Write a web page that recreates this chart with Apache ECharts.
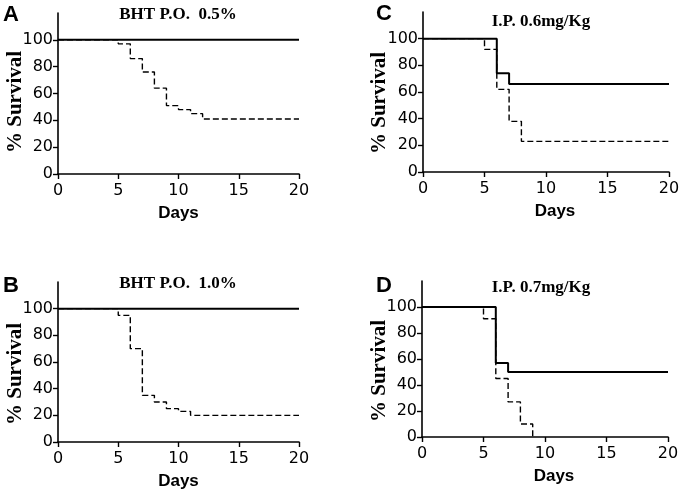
<!DOCTYPE html>
<html>
<head>
<meta charset="utf-8">
<script src="https://cdn.jsdelivr.net/npm/echarts@6/dist/echarts.min.js"></script>
<style>
  html, body { margin: 0; padding: 0; background: #fff; }
  #chart { width: 688px; height: 496px; }
</style>
</head>
<body>
<div id="chart"></div>
<script>
// x ticks / y ticks
var dayTicks = [0, 5, 10, 15, 20];
var survivalTicks = [0, 20, 40, 60, 80, 100];

// A - BHT P.O. 0.5%
var solidDaysA = [0, 20];
var solidA = [100, 100];
var dashDaysA = [0, 5, 6, 7, 8, 9, 10, 11, 12, 20];
var dashA = [100, 97, 86, 76, 64, 51, 48, 45, 41, 41];

// B - BHT P.O. 1.0%
var solidDaysB = [0, 20];
var solidB = [100, 100];
var dashDaysB = [0, 5, 6, 7, 8, 9, 10, 11, 20];
var dashB = [100, 95, 70, 35, 30, 25, 23, 20, 20];

// C - I.P. 0.6mg/Kg
var solidDaysC = [0, 6, 7, 20];
var solidC = [100, 74, 66, 66];
var dashDaysC = [0, 5, 6, 7, 8, 20];
var dashC = [100, 92, 62, 38, 23, 23];

// D - I.P. 0.7mg/Kg
var solidDaysD = [0, 6, 7, 20];
var solidD = [100, 57, 50, 50];
var dashDaysD = [0, 5, 6, 7, 8, 9];
var dashD = [100, 91, 45, 27, 10, 0];

var panels = [
  { letter: 'A', title: 'BHT P.O.  0.5%', grid: { left: 58, top: 13, width: 241, height: 161 },
    solid: [solidDaysA, solidA], dash: [dashDaysA, dashA], titleX: 178, titleY: 15, letterX: 3, letterY: 15, labX: 16, labY: 102, daysPad: 0 },
  { letter: 'C', title: 'I.P. 0.6mg/Kg', grid: { left: 423, top: 12, width: 246, height: 160 },
    solid: [solidDaysC, solidC], dash: [dashDaysC, dashC], titleX: 541, titleY: 22, letterX: 376, letterY: 14, labX: 380, labY: 103, daysPad: 18 },
  { letter: 'B', title: 'BHT P.O.  1.0%', grid: { left: 58, top: 282, width: 241, height: 160 },
    solid: [solidDaysB, solidB], dash: [dashDaysB, dashB], titleX: 178, titleY: 284, letterX: 3, letterY: 286, labX: 16, labY: 374, daysPad: 0 },
  { letter: 'D', title: 'I.P. 0.7mg/Kg', grid: { left: 422, top: 281, width: 246, height: 156 },
    solid: [solidDaysD, solidD], dash: [dashDaysD, dashD], titleX: 541, titleY: 288, letterX: 376, letterY: 286, labX: 380, labY: 371, daysPad: 18 }
];

function zip(xs, ys) {
  return xs.map(function (x, i) { return [x, ys[i]]; });
}

var tickFont = { color: '#000', fontFamily: 'DejaVu Sans', fontSize: 16 };

var grids = [], xAxes = [], yAxes = [], series = [], graphics = [];

panels.forEach(function (p, i) {
  grids.push(p.grid);
  xAxes.push({
    type: 'value', gridIndex: i, min: 0, max: 20, interval: 5,
    splitLine: { show: false },
    axisLine: { lineStyle: { color: '#000', width: 1.6 } },
    axisTick: { length: 5, customValues: dayTicks, lineStyle: { color: '#000', width: 1.4 } },
    axisLabel: Object.assign({ margin: 9, customValues: dayTicks }, tickFont),
    name: 'Days', nameLocation: 'middle', nameGap: 31,
    nameTextStyle: { color: '#000', fontFamily: 'Liberation Sans', fontWeight: 'bold', fontSize: 17, padding: [0, 0, 0, p.daysPad] }
  });
  yAxes.push({
    type: 'value', gridIndex: i, min: 0, max: 120, interval: 20,
    splitLine: { show: false },
    axisLine: { show: true, lineStyle: { color: '#000', width: 1.6 } },
    axisTick: { show: true, length: 5, customValues: survivalTicks, lineStyle: { color: '#000', width: 1.4 } },
    axisLabel: Object.assign({ margin: 5, customValues: survivalTicks }, tickFont)
  });
  series.push({
    type: 'line', xAxisIndex: i, yAxisIndex: i, step: 'end', symbol: 'none',
    data: zip(p.dash[0], p.dash[1]), silent: true, z: 2,
    lineStyle: { color: '#000', width: 1.4, type: [6, 3] }
  });
  series.push({
    type: 'line', xAxisIndex: i, yAxisIndex: i, step: 'end', symbol: 'none',
    data: zip(p.solid[0], p.solid[1]), silent: true, z: 3,
    lineStyle: { color: '#000', width: 2 }
  });
  graphics.push({
    type: 'text', x: p.titleX, y: p.titleY,
    style: { text: p.title, fill: '#000', font: 'bold 17px "Liberation Serif"', align: 'center', verticalAlign: 'middle' }
  });
  graphics.push({
    type: 'text', x: p.letterX, y: p.letterY,
    style: { text: p.letter, fill: '#000', font: 'bold 22px "Liberation Sans"', align: 'left', verticalAlign: 'middle' }
  });
  graphics.push({
    type: 'text', x: p.labX, y: p.labY, rotation: Math.PI / 2,
    style: { text: '% Survival', fill: '#000', font: 'bold 21px "Liberation Serif"', align: 'center', verticalAlign: 'middle' }
  });
});

var chart = echarts.init(document.getElementById('chart'), null, { renderer: 'canvas' });
chart.setOption({
  backgroundColor: '#fff',
  animation: false,
  grid: grids,
  xAxis: xAxes,
  yAxis: yAxes,
  series: series,
  graphic: graphics
});
</script>
</body>
</html>
